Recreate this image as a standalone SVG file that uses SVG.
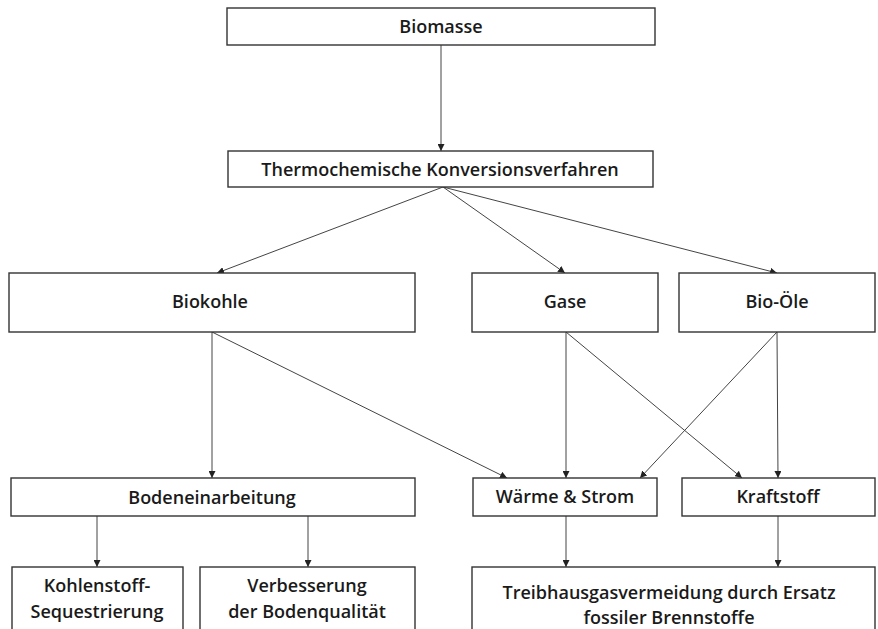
<svg xmlns="http://www.w3.org/2000/svg" width="878" height="629" viewBox="0 0 878 629">
  <defs>
    <marker id="arrow" viewBox="0 0 10 10" refX="10" refY="5" markerWidth="7" markerHeight="7" orient="auto" markerUnits="userSpaceOnUse">
      <path d="M0,0 L10,5 L0,10 z" fill="#222"/>
    </marker>
    <style>
      .box { fill: #fff; stroke: #333; stroke-width: 1.4; }
      .lbl { font-family: "Open Sans", "Noto Sans", "Liberation Sans", sans-serif; font-size: 18px; fill: #1a1a1a; text-anchor: middle; font-weight: 600; }
      .edge { stroke: #444; stroke-width: 1; fill: none; marker-end: url(#arrow); }
    </style>
  </defs>
  <rect width="878" height="629" fill="#fff"/>

  <g id="connectors">
    <line class="edge" x1="441" y1="45" x2="441" y2="151"/>
    <line class="edge" x1="443" y1="187" x2="217" y2="273"/>
    <line class="edge" x1="443" y1="187" x2="565" y2="273"/>
    <line class="edge" x1="443" y1="187" x2="777" y2="273"/>
    <line class="edge" x1="212" y1="332" x2="212" y2="478"/>
    <line class="edge" x1="212" y1="332" x2="507" y2="478"/>
    <line class="edge" x1="566" y1="332" x2="566" y2="478"/>
    <line class="edge" x1="566" y1="332" x2="742" y2="478"/>
    <line class="edge" x1="777" y1="332" x2="640" y2="478"/>
    <line class="edge" x1="777" y1="332" x2="778" y2="478"/>
    <line class="edge" x1="97" y1="516" x2="97" y2="567"/>
    <line class="edge" x1="308" y1="516" x2="308" y2="567"/>
    <line class="edge" x1="566" y1="516" x2="566" y2="567"/>
    <line class="edge" x1="778" y1="516" x2="778" y2="567"/>
  </g>

  <g id="biomasse">
    <rect class="box" x="227" y="8" width="428" height="37"/>
    <text class="lbl" x="441" y="33">Biomasse</text>
  </g>
  <g id="thermochemisch">
    <rect class="box" x="228" y="151" width="425" height="36"/>
    <text class="lbl" x="440" y="176">Thermochemische Konversionsverfahren</text>
  </g>
  <g id="biokohle">
    <rect class="box" x="9" y="273" width="406" height="59"/>
    <text class="lbl" x="210" y="308">Biokohle</text>
  </g>
  <g id="gase">
    <rect class="box" x="472" y="273" width="186" height="59"/>
    <text class="lbl" x="565" y="308">Gase</text>
  </g>
  <g id="bio-oele">
    <rect class="box" x="679" y="273" width="196" height="59"/>
    <text class="lbl" x="777" y="308">Bio-Öle</text>
  </g>
  <g id="bodeneinarbeitung">
    <rect class="box" x="11" y="478" width="404" height="38"/>
    <text class="lbl" x="212" y="504">Bodeneinarbeitung</text>
  </g>
  <g id="waerme-strom">
    <rect class="box" x="473" y="478" width="184" height="38"/>
    <text class="lbl" x="565" y="503">Wärme &amp; Strom</text>
  </g>
  <g id="kraftstoff">
    <rect class="box" x="682" y="478" width="193" height="38"/>
    <text class="lbl" x="778" y="503">Kraftstoff</text>
  </g>
  <g id="sequestrierung">
    <rect class="box" x="12" y="567" width="171" height="80"/>
    <text class="lbl" x="97" y="592">Kohlenstoff-</text>
    <text class="lbl" x="97" y="618">Sequestrierung</text>
  </g>
  <g id="bodenqualitaet">
    <rect class="box" x="200" y="567" width="215" height="80"/>
    <text class="lbl" x="307" y="592">Verbesserung</text>
    <text class="lbl" x="307" y="618">der Bodenqualität</text>
  </g>
  <g id="treibhausgas">
    <rect class="box" x="472" y="567" width="403" height="80"/>
    <text class="lbl" x="669" y="599">Treibhausgasvermeidung durch Ersatz</text>
    <text class="lbl" x="669" y="624">fossiler Brennstoffe</text>
  </g>
</svg>
